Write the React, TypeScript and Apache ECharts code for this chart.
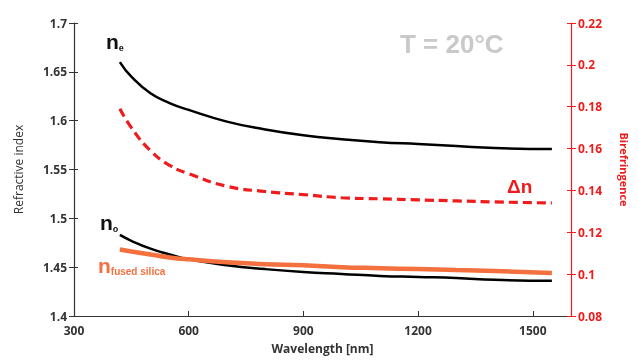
import React, { useEffect, useRef } from "react";
import * as echarts from "echarts";

const wavelengths = [420, 450, 500, 550, 600, 700, 800, 900, 1000, 1100, 1200, 1300, 1400, 1550];
const nE = [1.66, 1.645, 1.628, 1.618, 1.611, 1.599, 1.591, 1.585, 1.581, 1.578, 1.576, 1.574, 1.572, 1.571];
const nO = [1.483, 1.477, 1.469, 1.463, 1.458, 1.452, 1.448, 1.445, 1.443, 1.441, 1.44, 1.439, 1.437, 1.436];
const nFused = [1.468, 1.466, 1.463, 1.46, 1.458, 1.455, 1.453, 1.452, 1.45, 1.449, 1.448, 1.447, 1.446, 1.444];
const deltaN = [0.179, 0.17, 0.159, 0.152, 0.148, 0.142, 0.1395, 0.138, 0.1365, 0.136, 0.1355, 0.135, 0.1345, 0.134];

const FONT = "'Open Sans', 'Liberation Sans', sans-serif";
const ARIAL = "'Liberation Sans', Arial, sans-serif";
const RED = "#ee1c1c";
const ORANGE = "#f4703e";

const pair = (ys: number[]) => wavelengths.map((w, i) => [w, ys[i]]);

export default function App() {
  const ref = useRef<HTMLDivElement>(null);
  useEffect(() => {
    if (!ref.current) return;
    const chart = echarts.init(ref.current, null, { renderer: "svg" });
    const lineBase = { type: "line", smooth: true, showSymbol: false };
    chart.setOption({
      animation: false,
      textStyle: { fontFamily: FONT },
      grid: { left: 74, right: 64, top: 23, bottom: 47 },
      xAxis: {
        type: "value",
        min: 300,
        max: 1600,
        interval: 300,
        name: "Wavelength [nm]",
        nameLocation: "middle",
        nameGap: 26,
        nameTextStyle: { color: "#333", fontSize: 12, fontWeight: "bold", fontFamily: FONT },
        axisLine: { lineStyle: { color: "#333", width: 1.2 } },
        axisTick: { inside: true, length: 5, lineStyle: { color: "#333" } },
        axisLabel: {
          color: "#333",
          fontSize: 12,
          fontWeight: "bold",
          margin: 8,
          showMaxLabel: false,
          fontFamily: FONT,
          formatter: (v: number) => String(v),
        },
        splitLine: { show: false },
      },
      yAxis: [
        {
          type: "value",
          position: "left",
          min: 1.4,
          max: 1.7,
          interval: 0.05,
          name: "Refractive index",
          nameLocation: "middle",
          nameGap: 50,
          nameTextStyle: { color: "#333", fontSize: 12, fontFamily: FONT },
          axisLine: { show: true, lineStyle: { color: "#333", width: 1.2 } },
          axisTick: { show: true, length: 5, lineStyle: { color: "#333" } },
          axisLabel: { color: "#333", fontSize: 12, fontWeight: "bold", margin: 7, fontFamily: FONT },
          splitLine: { show: false },
        },
        {
          type: "value",
          position: "right",
          min: 0.08,
          max: 0.22,
          interval: 0.02,
          name: "Birefringence",
          nameLocation: "middle",
          nameGap: 48,
          nameRotate: -90,
          nameTextStyle: { color: RED, fontSize: 11, fontWeight: "bold", fontFamily: FONT },
          axisLine: { show: true, lineStyle: { color: RED, width: 1.2 } },
          axisTick: { show: true, length: 5, lineStyle: { color: RED } },
          axisLabel: { color: RED, fontSize: 12, fontWeight: "bold", margin: 7, fontFamily: FONT },
          splitLine: { show: false },
        },
        {
          type: "value",
          position: "left",
          min: 1.4,
          max: 1.7,
          interval: 0.05,
          axisLine: { show: false },
          axisTick: { show: true, inside: true, length: 4, lineStyle: { color: "#333" } },
          axisLabel: { show: false },
          splitLine: { show: false },
        },
        {
          type: "value",
          position: "right",
          min: 0.08,
          max: 0.22,
          interval: 0.02,
          axisLine: { show: false },
          axisTick: { show: true, inside: true, length: 4, lineStyle: { color: RED } },
          axisLabel: { show: false },
          splitLine: { show: false },
        },
      ],
      series: [
        { ...lineBase, name: "ne", yAxisIndex: 0, data: pair(nE), lineStyle: { color: "#000", width: 2.5 }, z: 3 },
        { ...lineBase, name: "no", yAxisIndex: 0, data: pair(nO), lineStyle: { color: "#000", width: 2.5 }, z: 3 },
        { ...lineBase, name: "nfused", yAxisIndex: 0, data: pair(nFused), lineStyle: { color: ORANGE, width: 4.5 }, z: 4 },
        {
          ...lineBase,
          name: "dn",
          yAxisIndex: 1,
          data: pair(deltaN),
          lineStyle: { color: RED, width: 3.2, type: [9, 5] },
          z: 3,
        },
      ],
      graphic: [
        {
          type: "text",
          left: 106,
          top: 31,
          style: {
            text: "{n|n}{s|e}",
            rich: {
              n: { fontSize: 21, fontWeight: "bold", fill: "#111", fontFamily: ARIAL },
              s: { fontSize: 9, fontWeight: "bold", fill: "#111", fontFamily: ARIAL, padding: [12, 0, 0, 0] },
            },
          },
        },
        {
          type: "text",
          left: 100,
          top: 212,
          style: {
            text: "{n|n}{s|o}",
            rich: {
              n: { fontSize: 21, fontWeight: "bold", fill: "#111", fontFamily: ARIAL },
              s: { fontSize: 9, fontWeight: "bold", fill: "#111", fontFamily: ARIAL, padding: [12, 0, 0, 0] },
            },
          },
        },
        {
          type: "text",
          left: 98,
          top: 255,
          style: {
            text: "{n|n}{s|fused silica}",
            rich: {
              n: { fontSize: 21, fontWeight: "bold", fill: ORANGE, fontFamily: ARIAL },
              s: { fontSize: 10, fontWeight: "bold", fill: ORANGE, fontFamily: ARIAL, padding: [12, 0, 0, 0] },
            },
          },
        },
        {
          type: "text",
          left: 507,
          top: 177,
          style: { text: "Δn", fontSize: 19, fontWeight: "bold", fill: RED, fontFamily: ARIAL },
        },
        {
          type: "text",
          left: 400,
          top: 31,
          style: { text: "T = 20°C", fontSize: 26, fontWeight: "bold", fill: "#c9c9c9", fontFamily: ARIAL },
        },
      ],
    });
    return () => chart.dispose();
  }, []);
  return <div ref={ref} style={{ position: "fixed", left: 0, top: 0, width: 638, height: 363 }} />;
}
